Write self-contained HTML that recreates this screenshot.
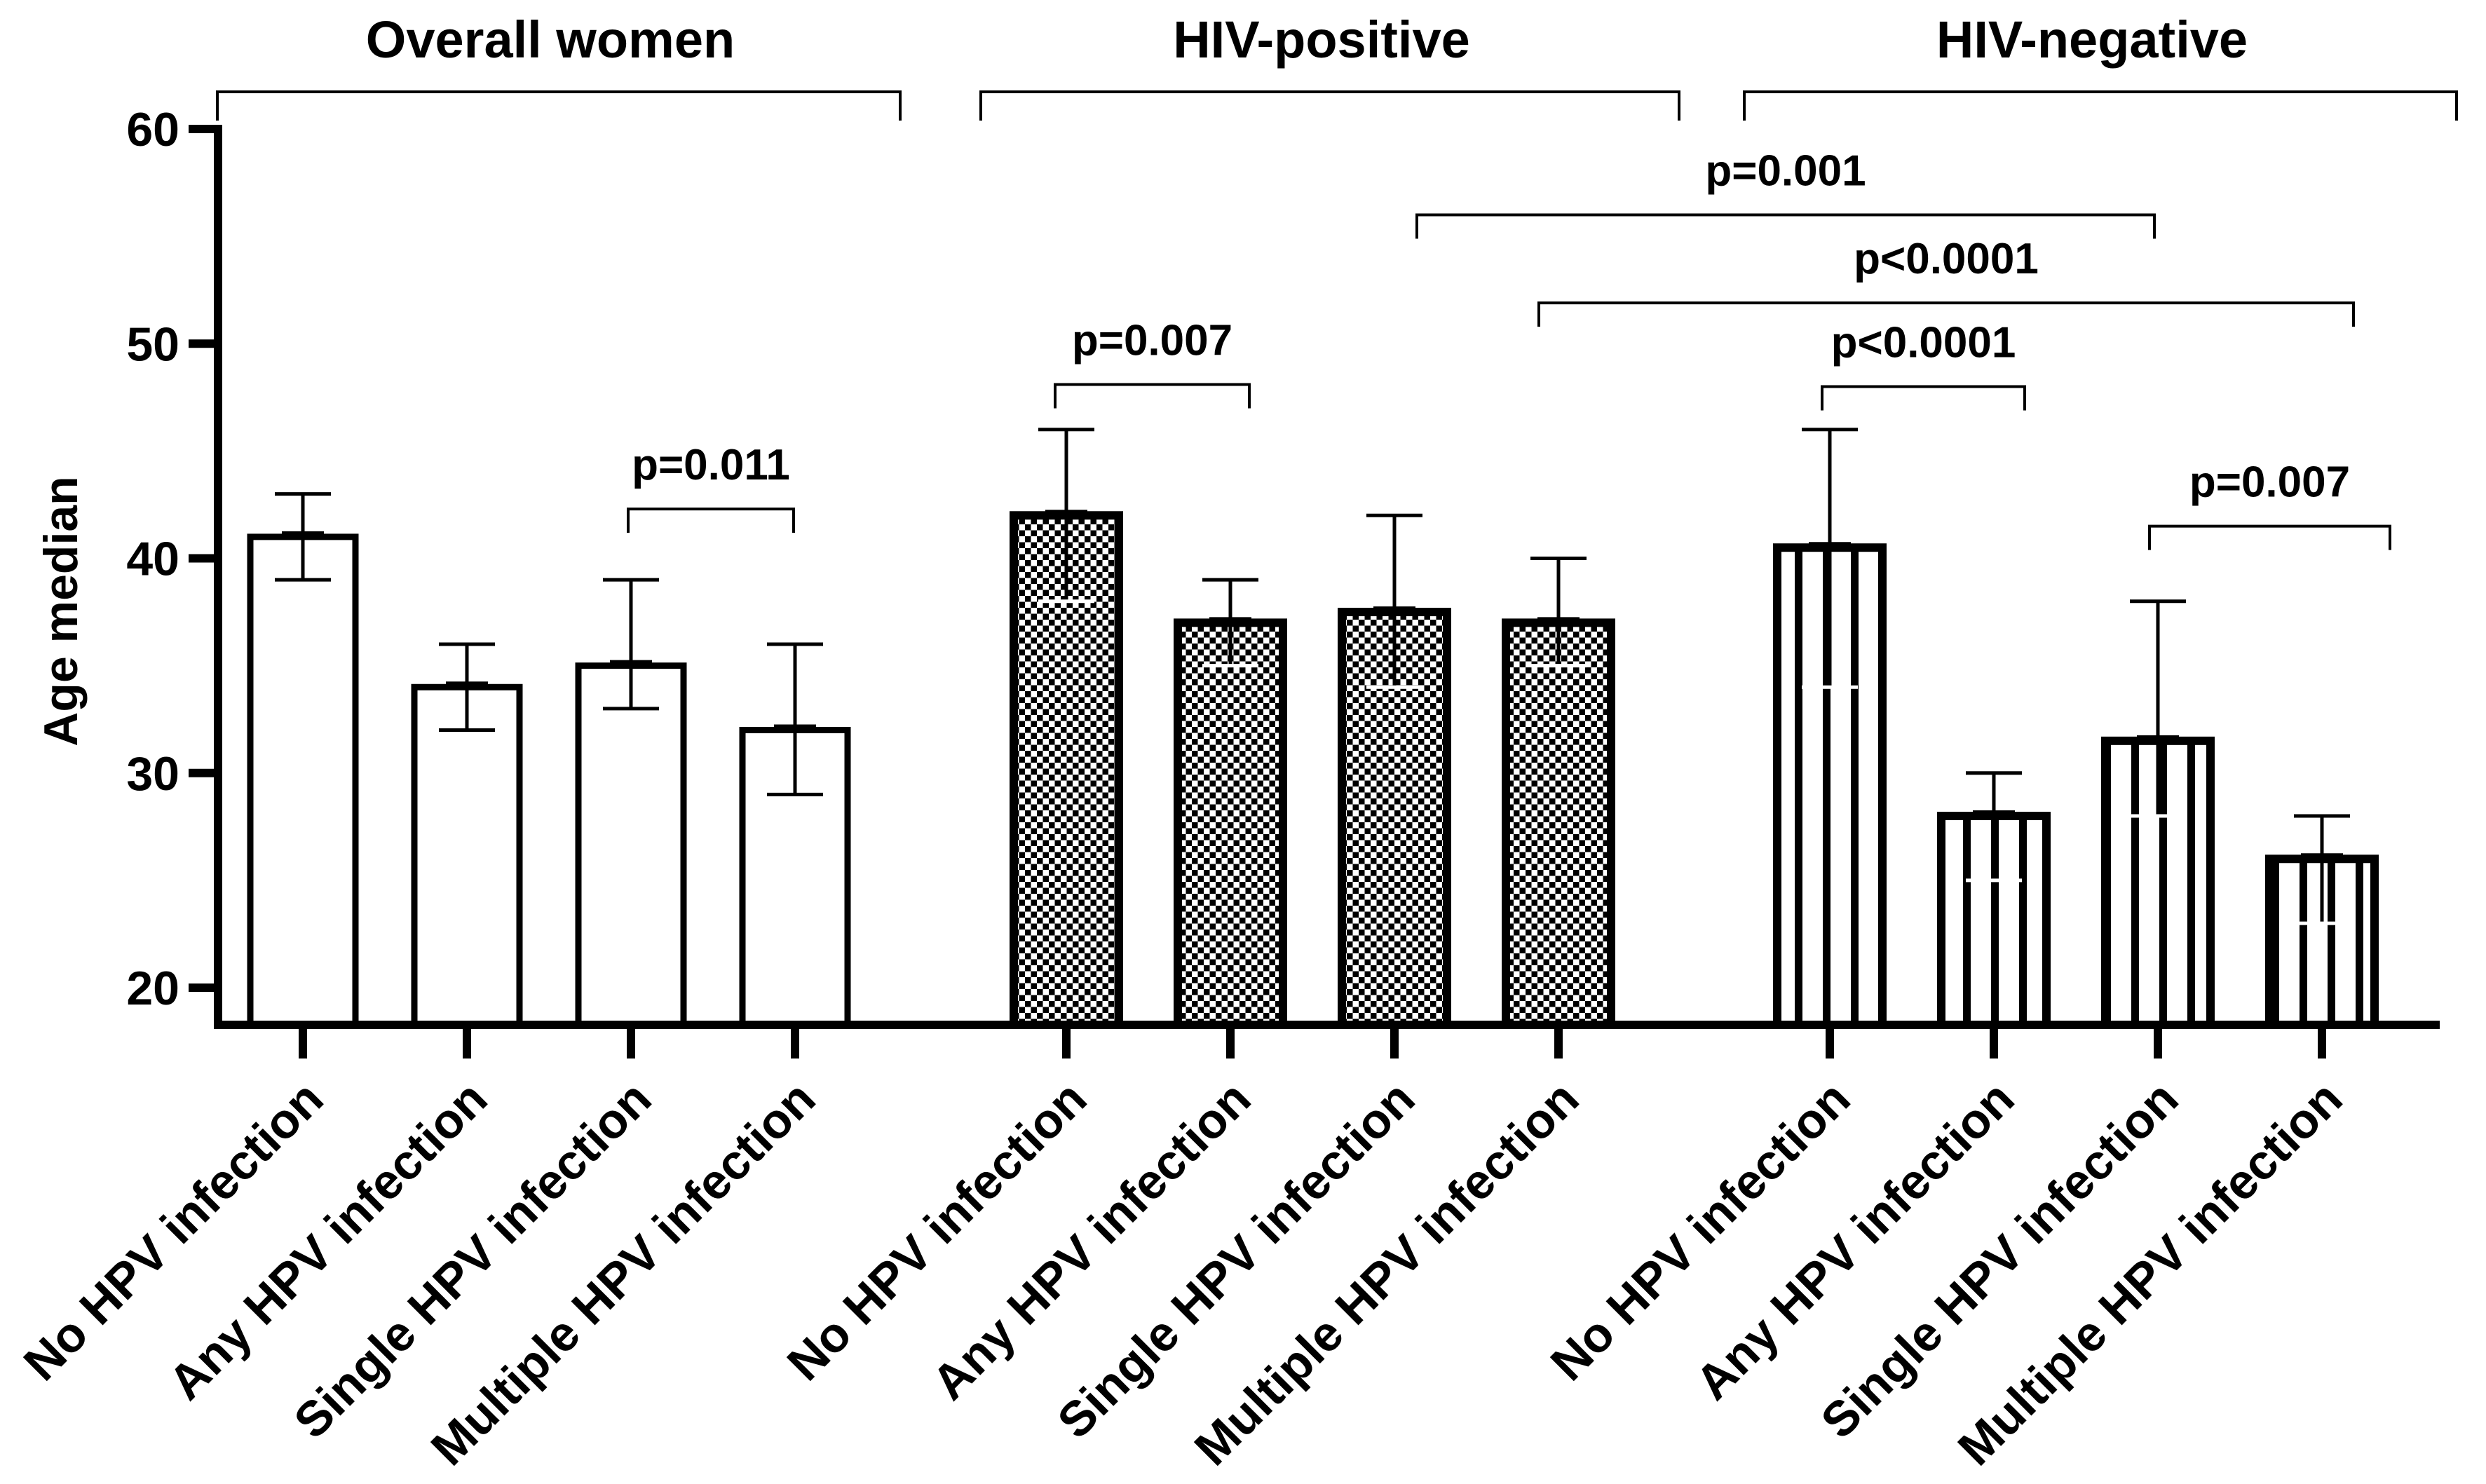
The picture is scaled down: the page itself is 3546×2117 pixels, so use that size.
<!DOCTYPE html>
<html><head><meta charset="utf-8"><style>
html,body{margin:0;padding:0;background:#fff;}
svg{display:block;font-family:"Liberation Sans",Arial,sans-serif;font-weight:bold;}
</style></head><body>
<svg id="chart" width="3546" height="2117" viewBox="0 0 3546 2117" xmlns="http://www.w3.org/2000/svg">
<defs>
<pattern id="checker" patternUnits="userSpaceOnUse" width="17" height="17">
<rect width="17" height="17" fill="#fff"/>
<rect width="8.5" height="8.5" fill="#000"/>
<rect x="8.5" y="8.5" width="8.5" height="8.5" fill="#000"/>
</pattern>
<pattern id="stripes" patternUnits="userSpaceOnUse" width="40" height="10">
<rect width="40" height="10" fill="#fff"/>
<rect x="0" width="11" height="10" fill="#000"/>
</pattern>
</defs>
<g id="plot"></g>
</svg>
<script>
const categories = ["No HPV infection","Any HPV infection","Single HPV infection","Multiple HPV infection",
  "No HPV infection","Any HPV infection","Single HPV infection","Multiple HPV infection",
  "No HPV infection","Any HPV infection","Single HPV infection","Multiple HPV infection"];
const groupNames = ["Overall women","HIV-positive","HIV-negative"];
const medians = [41,34,35,32, 42,37,37.5,37, 40.5,28,31.5,26];
const upperErr = [43,36,39,36, 46,39,42,40, 46,30,38,28];
const lowerErr = [39,32,33,29, 38,35,34,35, 34,25,28,23];
const yTicks = [20,30,40,50,60];
const pLabels = ["p=0.011","p=0.007","p=0.001","p<0.0001","p<0.0001","p=0.007"];
const pFrom = [2,4,6,7,8,10];
const pTo = [3,5,10,11,9,11];
const pLevel = [42.3,48.1,56.0,51.9,48.0,41.5];
const pDxL = [-4,-16,32,-28,-11,-12];
const pDxR = [-2,27,-5,45,44,97];
const grpDxR = [150,172,192];

const NS="http://www.w3.org/2000/svg";
const g=document.getElementById('plot');
function el(t,a,p){const e=document.createElementNS(NS,t);for(const k in a)e.setAttribute(k,a[k]);(p||g).appendChild(e);return e;}
const y0=1409, y1=184, vmin=20, vmax=60;
function ys(v){return y0-(v-vmin)*(y0-y1)/(vmax-vmin);}
const axisY=1462, axisX=311;
function xc(i){const grp=Math.floor(i/4), k=i%4;return 432+k*234+grp*1089;}
const barW=150;
const fills=["#fff","url(#checker)","url(#stripes)"];

medians.forEach((m,i)=>{
  const grp=Math.floor(i/4), x=xc(i), top=ys(m);
  const r=el('rect',{x:x-barW/2,y:top,width:barW,height:axisY-top,fill:fills[grp],stroke:'#000','stroke-width':grp==0?9:12});
  
  
  const lc=grp==0?'#000':'#fff';
  el('line',{x1:x-30,x2:x+30,y1:top-4,y2:top-4,stroke:'#000','stroke-width':8});
  const eu=el('line',{x1:x,x2:x,y1:top,y2:ys(upperErr[i]),stroke:'#000','stroke-width':5});
  
  
  el('line',{x1:x-40,x2:x+40,y1:ys(upperErr[i]),y2:ys(upperErr[i]),stroke:'#000','stroke-width':5});
  const el2=el('line',{x1:x,x2:x,y1:top,y2:ys(lowerErr[i]),stroke:'#000','stroke-width':5});
  
  
  el('line',{x1:x-40,x2:x+40,y1:ys(lowerErr[i]),y2:ys(lowerErr[i]),stroke:lc,'stroke-width':5});
  el('line',{x1:x,x2:x,y1:axisY,y2:axisY+48,stroke:'#000','stroke-width':12});
  const t=el('text',{x:0,y:0,'font-size':70,'text-anchor':'end',transform:`translate(${x+33},${axisY+110}) rotate(-45)`});
  t.textContent=categories[i];
  
  
});
const ya=el('line',{x1:axisX,x2:axisX,y1:y1-6,y2:axisY+6,stroke:'#000','stroke-width':12});


const xa=el('line',{x1:axisX-6,x2:3480,y1:axisY,y2:axisY,stroke:'#000','stroke-width':12});


yTicks.forEach(v=>{
  el('line',{x1:axisX-42,x2:axisX,y1:ys(v),y2:ys(v),stroke:'#000','stroke-width':12});
  const t=el('text',{x:axisX-55,y:ys(v)+24,'font-size':68,'text-anchor':'end'});
  t.textContent=v;
  
  
});
const yl=el('text',{x:0,y:0,'font-size':68,'text-anchor':'middle',transform:'translate(110,872) rotate(-90)'});
yl.textContent='Age median';


groupNames.forEach((n,gi)=>{
  const xl=xc(gi*4)-122, xr=xc(gi*4+3)+grpDxR[gi];
  el('path',{d:`M${xl},172 V131 H${xr} V172`,fill:'none',stroke:'#000','stroke-width':4});
  const t=el('text',{x:(xl+xr)/2-12,y:82,'font-size':74,'text-anchor':'middle'});
  t.textContent=n;
  
  
});
pLabels.forEach((p,i)=>{
  const xl=xc(pFrom[i])+pDxL[i], xr=xc(pTo[i])+pDxR[i], yy=ys(pLevel[i]);
  const b=el('path',{d:`M${xl},${yy+34} V${yy} H${xr} V${yy+34}`,fill:'none',stroke:'#000','stroke-width':4});
  
  
  const t=el('text',{x:(xl+xr)/2,y:yy-42,'font-size':62,'text-anchor':'middle'});
  t.textContent=p;
  
  
});
</script>
</body></html>
